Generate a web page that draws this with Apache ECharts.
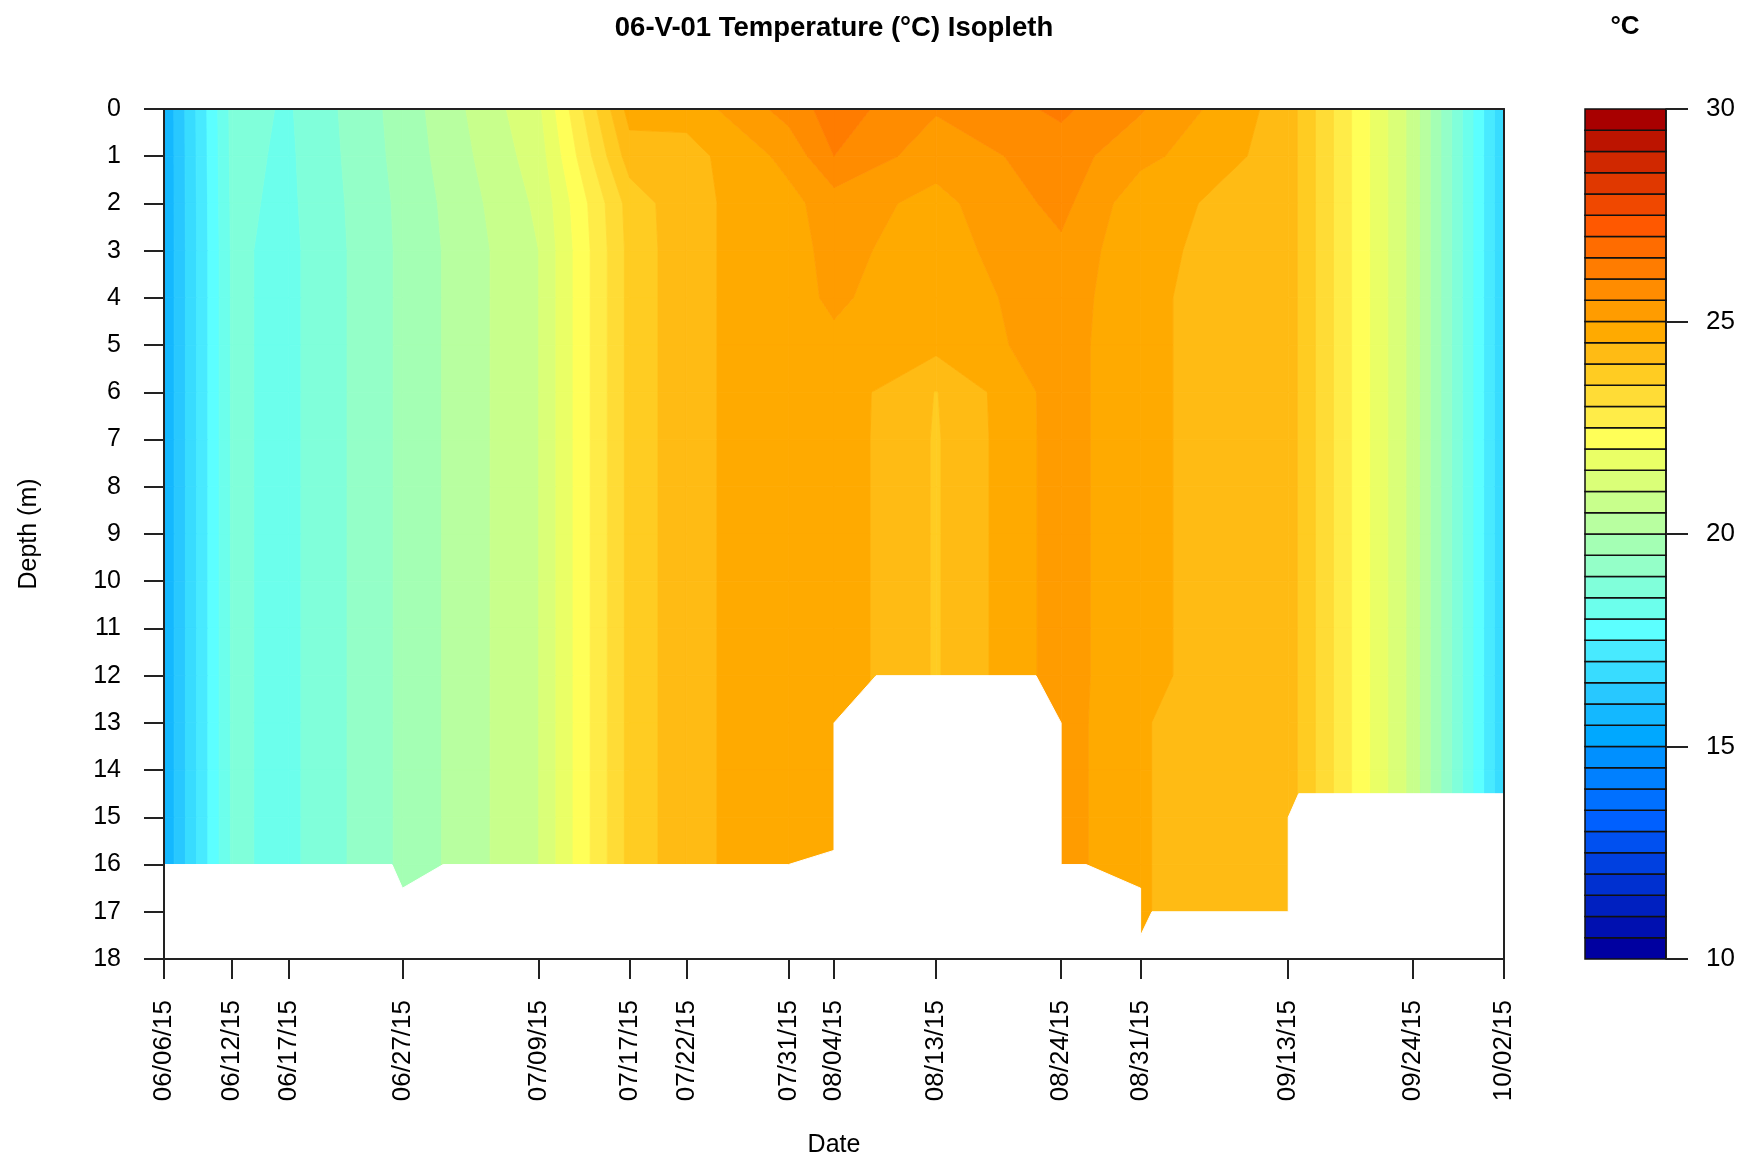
<!DOCTYPE html>
<html><head><meta charset="utf-8">
<script src="https://cdn.jsdelivr.net/npm/echarts@6/dist/echarts.min.js"></script>
<style>html,body{margin:0;padding:0;background:#fff}#c{width:1762px;height:1166px}</style>
</head><body><div id="c"></div>
<script>
// ---- DATA ----
const sampleDates = ['2015-06-06','2015-06-12','2015-06-17','2015-06-27','2015-07-09','2015-07-17','2015-07-22',
  '2015-07-31','2015-08-04','2015-08-13','2015-08-24','2015-08-31','2015-09-13','2015-09-24','2015-10-02'];
const depths = [0,1,2,3,4,5,6,7,8,9,10,11,12,13,14,15,16,17,18];
// temperature (°C) profiles by date, depth 0 m downward (1 m steps)
const t_0606 = [15.55,15.55,15.55,15.55,15.55,15.55,15.55,15.55,15.55,15.55,15.55,15.55,15.55,15.55,15.55,15.55,15.55];
const t_0612 = [18.65,18.63,18.6,18.58,18.58,18.58,18.58,18.58,18.58,18.58,18.58,18.58,18.58,18.58,18.58,18.58,18.58];
const t_0617 = [18.45,18.42,18.4,18.37,18.37,18.37,18.37,18.37,18.37,18.37,18.37,18.37,18.37,18.37,18.37,18.37,18.37];
const t_0627 = [19.72,19.68,19.62,19.6,19.6,19.6,19.6,19.6,19.6,19.6,19.6,19.6,19.6,19.6,19.6,19.6,19.6,19.6];
const t_0709 = [21.4,21.25,21.1,21.0,21.0,21.0,21.0,21.0,21.0,21.0,21.0,21.0,21.0,21.0,21.0,21.0,21.0];
const t_0717 = [24.7,24.25,23.7,23.65,23.65,23.65,23.65,23.65,23.65,23.65,23.65,23.65,23.65,23.65,23.65,23.65,23.65];
const t_0722 = [24.7,24.3,24.35,24.35,24.35,24.35,24.35,24.35,24.35,24.35,24.35,24.35,24.35,24.35,24.35,24.35,24.35];
const t_0731 = [25.7,25.15,24.85,24.85,24.85,24.85,24.85,24.85,24.85,24.85,24.85,24.85,24.85,24.85,24.85,24.85,24.85];
const t_0804 = [26.25,26.0,25.25,25.12,25.07,24.92,24.8,24.8,24.8,24.8,24.8,24.8,24.8,24.8,24.8,24.8,24.8];
const t_0813 = [25.55,25.2,24.85,24.8,24.7,24.65,23.98,23.95,23.95,23.95,23.95,23.95,23.95];
const t_0824 = [26.1,25.75,25.65,25.4,25.3,25.25,25.25,25.25,25.25,25.25,25.25,25.25,25.25,25.25,25.25,25.25,25.25];
const t_0831 = [25.55,25.15,24.66,24.6,24.57,24.57,24.57,24.57,24.57,24.57,24.57,24.57,24.57,24.52,24.52,24.52,24.52,24.52,24.52];
const t_0913 = [24.25,24.25,24.25,24.25,24.25,24.25,24.25,24.25,24.25,24.25,24.25,24.25,24.25,24.25,24.25,24.25,24.25,24.25];
const t_0924 = [20.8,20.8,20.8,20.8,20.8,20.8,20.8,20.8,20.8,20.8,20.8,20.8,20.8,20.8,20.8,20.8];
const t_1002 = [16.55,16.55,16.55,16.55,16.55,16.55,16.55,16.55,16.55,16.55,16.55,16.55,16.55,16.55,16.55,16.55];
const profiles = [t_0606,t_0612,t_0617,t_0627,t_0709,t_0717,t_0722,t_0731,t_0804,t_0813,t_0824,t_0831,t_0913,t_0924,t_1002];
// lake bottom outline (date, depth m) below which there is no data
const bottomProfile = [
  ['2015-06-06',16],['2015-06-26T02:00',16],['2015-06-27',16.5],['2015-06-30T14:00',16],
  ['2015-07-31',16],['2015-08-04',15.7],['2015-08-04',13],['2015-08-07T17:00',12],
  ['2015-08-21T19:00',12],['2015-08-24',13],['2015-08-24',16],['2015-08-26T05:00',16],
  ['2015-08-31',16.5],['2015-08-31',17.5],['2015-09-01',17],['2015-09-13',17],
  ['2015-09-13',15],['2015-09-13T22:00',14.5],['2015-10-02',14.5]
];
const levels = [10,10.5,11,11.5,12,12.5,13,13.5,14,14.5,15,15.5,16,16.5,17,17.5,18,18.5,19,19.5,20,
  20.5,21,21.5,22,22.5,23,23.5,24,24.5,25,25.5,26,26.5,27,27.5,28,28.5,29,29.5,30];
const colorbarTicks = [10,15,20,25,30];
const bandColors = ['#0000A0','#0010B0','#0020C0','#0030D0','#0040E0','#0050F0','#0060FF','#0070FF','#0080FF','#0090FF',
  '#00A8FF','#14B8FF','#28C8FF','#38DCFF','#48EAFF','#5CFFFF','#6CFFEC','#80FFDA','#94FFC8','#A4FFB4',
  '#B8FFA0','#C8FF8C','#DAFF78','#EAFF66','#FFFF58','#FFEC48','#FFDC36','#FFCC22','#FFBB14','#FFAA00',
  '#FF9C00','#FF8C00','#FF7C00','#FF6C00','#FF5800','#F04800','#E03800','#D02800','#BC1400','#A80000'];

// ---- helpers ----
function ts(s){
  const parts = s.split('T'); const ymd = parts[0].split('-').map(Number);
  let h = 0, mi = 0; if (parts[1]) { const hm = parts[1].split(':').map(Number); h = hm[0]; mi = hm[1]; }
  return Date.UTC(ymd[0], ymd[1]-1, ymd[2], h, mi);
}
const dateTs = sampleDates.map(ts);
const pad = n => (n < 10 ? '0' : '') + n;
function fmtDate(v){ const d = new Date(v); return pad(d.getUTCMonth()+1)+'/'+pad(d.getUTCDate())+'/'+String(d.getUTCFullYear()).slice(2); }
function val(i, j){ const p = profiles[i]; return p[Math.min(j, p.length-1)]; }
function clipBy(pts, f){
  const res = []; const n = pts.length;
  for (let a = 0; a < n; a++) {
    const P = pts[a], Q = pts[(a+1)%n]; const fp = f(P), fq = f(Q);
    if (fp >= 0) res.push(P);
    if ((fp >= 0) !== (fq >= 0)) {
      const t = fp/(fp-fq);
      res.push({x:P.x+t*(Q.x-P.x), y:P.y+t*(Q.y-P.y), v:P.v+t*(Q.v-P.v)});
    }
  }
  return res;
}
const FONT = '"Liberation Sans", Arial, sans-serif';

const cellData = [];
for (let i = 0; i < dateTs.length-1; i++)
  for (let j = 0; j < depths.length-1; j++)
    cellData.push([(dateTs[i]+dateTs[i+1])/2, (depths[j]+depths[j+1])/2, i, j]);

const chart = echarts.init(document.getElementById('c'), null, {renderer:'canvas'});
const axisLineStyle = {color:'#222', width:2};
chart.setOption({
  animation:false,
  backgroundColor:'#fff',
  graphic:[
    {type:'text', x:834, y:28, z:20, style:{text:'06-V-01 Temperature (°C) Isopleth', font:'bold 27.5px '+FONT, fill:'#000', align:'center', verticalAlign:'middle', textAlign:'center', textVerticalAlign:'middle'}},
    {type:'text', x:1625, y:27, z:20, style:{text:'°C', font:'bold 26px '+FONT, fill:'#000', align:'center', verticalAlign:'middle', textAlign:'center', textVerticalAlign:'middle'}}
  ],
  grid:[
    {left:164, top:109, width:1340, height:850},
    {left:1585, top:109, width:81, height:850}
  ],
  xAxis:[
    {type:'value', gridIndex:0, min:dateTs[0], max:dateTs[dateTs.length-1], z:10,
     name:'Date', nameLocation:'middle', nameGap:174, nameTextStyle:{fontSize:25, color:'#000', fontFamily:FONT},
     axisLine:{show:true, onZero:false, lineStyle:axisLineStyle},
     axisTick:{show:true, length:20, customValues:dateTs, lineStyle:axisLineStyle},
     axisLabel:{show:true, rotate:90, margin:41, fontSize:26, color:'#000', fontFamily:FONT, customValues:dateTs, formatter:fmtDate},
     splitLine:{show:false}},
    {type:'value', gridIndex:0, position:'top', min:dateTs[0], max:dateTs[dateTs.length-1], z:10,
     axisLine:{show:true, onZero:false, lineStyle:axisLineStyle}, axisTick:{show:false}, axisLabel:{show:false}, splitLine:{show:false}},
    {type:'value', gridIndex:1, min:0, max:1, show:false}
  ],
  yAxis:[
    {type:'value', gridIndex:0, inverse:true, min:0, max:18, interval:1, z:10,
     name:'Depth (m)', nameLocation:'middle', nameGap:122, nameTextStyle:{fontSize:25, color:'#000', fontFamily:FONT},
     axisLine:{show:true, onZero:false, lineStyle:axisLineStyle},
     axisTick:{show:true, length:20, lineStyle:axisLineStyle},
     axisLabel:{show:true, margin:43, fontSize:25, color:'#000', fontFamily:FONT},
     splitLine:{show:false}},
    {type:'value', gridIndex:0, position:'right', inverse:true, min:0, max:18, z:10,
     axisLine:{show:true, onZero:false, lineStyle:axisLineStyle}, axisTick:{show:false}, axisLabel:{show:false}, splitLine:{show:false}},
    {type:'value', gridIndex:1, position:'right', min:10, max:30, interval:5, z:10,
     axisLine:{show:true, onZero:false, lineStyle:{color:'#111', width:1.5}},
     axisTick:{show:true, inside:false, length:22, customValues:colorbarTicks, lineStyle:axisLineStyle},
     axisLabel:{show:true, margin:40, fontSize:26, color:'#000', fontFamily:FONT, customValues:colorbarTicks},
     splitLine:{show:false}}
  ],
  series:[
    {type:'custom', xAxisIndex:0, yAxisIndex:0, silent:true, z:2,
     dimensions:['t','d','i','j'], encode:{x:'t', y:'d'}, data:cellData,
     renderItem:function(params, api){
       const i = api.value(2), j = api.value(3);
       const ring = [[i,j],[i+1,j],[i+1,j+1],[i,j+1]].map(function(c){
         const p = api.coord([dateTs[c[0]], depths[c[1]]]);
         return {x:p[0], y:p[1], v:val(c[0], c[1])};
       });
       const vs = ring.map(r => r.v); const vmin = Math.min.apply(null, vs), vmax = Math.max.apply(null, vs);
       const children = [];
       for (let k = 0; k < levels.length-1; k++) {
         const lo = levels[k], hi = levels[k+1];
         if (vmax < lo || vmin > hi) continue;
         let poly = clipBy(ring, p => p.v - lo);
         if (poly.length < 3) continue;
         poly = clipBy(poly, p => hi - p.v);
         if (poly.length < 3) continue;
         children.push({type:'polygon', shape:{points:poly.map(p => [p.x, p.y])},
           style:{fill:bandColors[k], stroke:bandColors[k], lineWidth:0.8}});
       }
       return {type:'group', children:children};
     }},
    {type:'custom', xAxisIndex:0, yAxisIndex:0, silent:true, z:3,
     data:[[dateTs[0], 17]],
     renderItem:function(params, api){
       const pts = bottomProfile.map(p => api.coord([ts(p[0]), p[1]]));
       pts.push(api.coord([dateTs[dateTs.length-1], 18]));
       pts.push(api.coord([dateTs[0], 18]));
       return {type:'polygon', shape:{points:pts}, style:{fill:'#fff', stroke:'#fff', lineWidth:1}};
     }},
    {type:'custom', xAxisIndex:2, yAxisIndex:2, silent:true, z:2,
     data:bandColors.map((c, k) => [0.5, (levels[k]+levels[k+1])/2, k]),
     renderItem:function(params, api){
       const k = api.value(2);
       const p1 = api.coord([0, levels[k+1]]), p2 = api.coord([1, levels[k]]);
       return {type:'rect', shape:{x:p1[0], y:p1[1], width:p2[0]-p1[0], height:p2[1]-p1[1]},
         style:{fill:bandColors[k], stroke:'#111', lineWidth:1.5}};
     }}
  ]
});
</script></body></html>
